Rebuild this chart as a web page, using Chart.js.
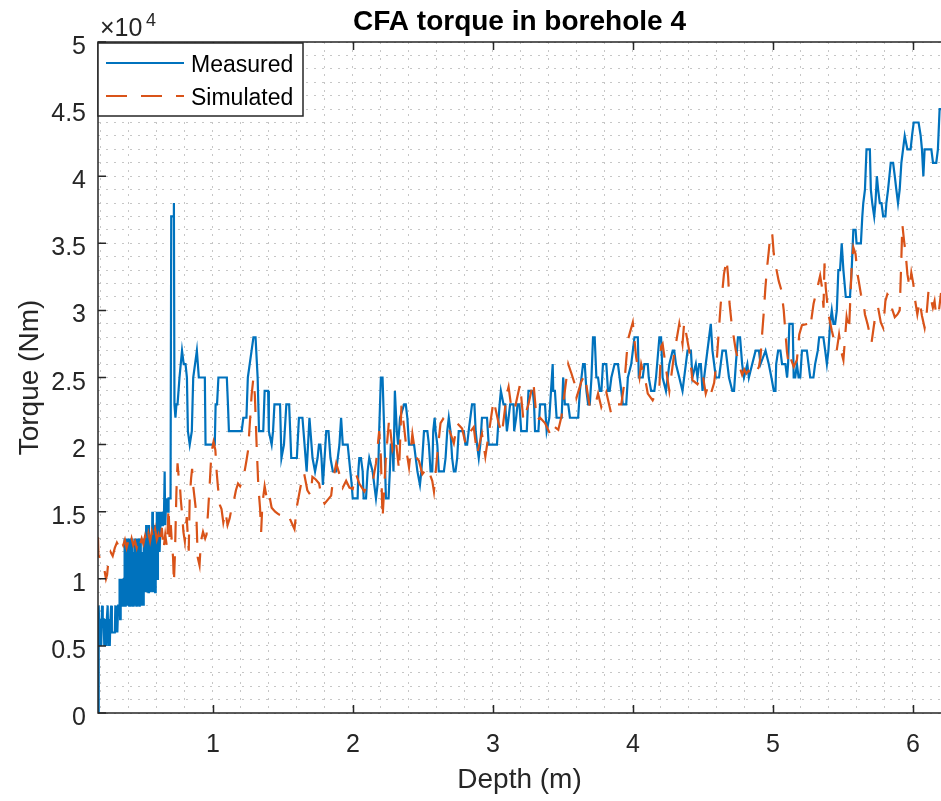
<!DOCTYPE html>
<html>
<head>
<meta charset="utf-8">
<script src="https://cdn.jsdelivr.net/npm/chart.js@4.4.1/dist/chart.umd.min.js"></script>
<style>
  html, body { margin: 0; padding: 0; background: #ffffff; overflow: hidden; }
  #wrap { width: 941px; height: 801px; }
</style>
</head>
<body>
<div id="wrap"><canvas id="torque" width="941" height="801"></canvas></div>
<script>
// Axis ticks and their labels
const xTickValues = [1, 2, 3, 4, 5, 6];
const xTickLabels = ['1', '2', '3', '4', '5', '6'];
const yTickValues = [0, 5000, 10000, 15000, 20000, 25000, 30000, 35000, 40000, 45000, 50000];
const yTickLabels = ['0', '0.5', '1', '1.5', '2', '2.5', '3', '3.5', '4', '4.5', '5'];
const seriesNames = ['Measured', 'Simulated'];

// Measured torque (Nm) against depth (m)
const measuredDepth = [
  0.180,0.183,0.187,0.192,0.197,0.203,0.209,0.214,0.220,0.225,0.231,0.237,0.243,0.249,0.254,0.259,0.264,0.269,0.274,0.279,0.290,0.300,0.304,0.308,0.312,0.318,0.324,0.330,0.334,0.338,0.342,0.346,0.350,0.354,0.358,0.362,0.366,
  0.370,0.373,0.376,0.379,0.382,0.385,0.388,0.391,0.394,0.397,0.400,0.403,0.406,0.409,0.412,0.415,0.418,0.421,0.424,0.427,0.430,0.433,0.436,0.439,0.442,0.445,0.448,0.451,0.454,0.457,0.460,0.463,0.466,0.469,0.472,0.475,0.478,0.481,0.484,0.487,0.490,0.493,0.496,0.499,0.502,0.505,0.508,
  0.512,0.516,0.520,0.524,0.528,0.532,0.536,0.540,0.544,0.548,0.552,0.556,0.560,0.564,0.568,0.572,0.576,0.580,0.584,0.588,0.592,0.596,0.600,0.604,0.608,0.612,
  0.616,0.620,0.626,0.632,0.638,0.644,0.650,0.656,0.660,0.664,0.668,0.672,0.676,0.680,0.684,0.692,
  0.698,0.703,0.716,0.722,0.726,0.733,0.740,0.748,0.762,0.780,0.792,0.805,0.815,0.822,0.835,0.850,0.860,0.886,0.900,0.943,0.948,1.014,1.020,1.030,1.040,1.100,1.108,1.115,1.206,1.218,1.240,1.250,1.290,1.305,1.320,1.330,1.360,1.370,1.395,1.400,1.420,1.430,1.440,1.480,1.490,1.508,1.525,1.545,1.560,1.600,1.615,1.640,1.670,1.690,1.712,1.730,1.748,1.758,1.768,1.776,1.786,1.810,1.826,
  1.840,1.857,1.881,1.892,1.904,1.916,1.928,1.963,1.982,1.992,1.999,2.034,2.039,2.046,2.058,2.070,2.077,2.094,2.105,2.117,2.141,2.153,2.165,2.176,2.181,2.188,2.200,2.212,2.224,2.236,2.255,2.264,2.271,2.283,2.290,2.300,2.314,2.323,2.337,2.366,2.378,2.389,2.401,2.437,2.449,2.461,2.479,2.489,2.496,2.508,2.532,2.543,2.555,2.567,2.574,2.584,2.591,2.603,2.614,2.650,2.662,2.674,2.685,2.697,2.709,2.721,2.733,2.745,2.756,2.792,2.804,2.816,2.827,2.851,2.868,2.877,2.887,2.899,2.910,2.922,2.958,2.970,3.029,3.041,3.048,3.057,3.076,3.088,3.100,3.112,3.123,3.147,3.152,3.166,3.176,3.190,
  3.202,3.242,3.254,3.285,3.294,3.301,3.325,3.337,3.372,3.384,3.403,3.427,3.431,3.443,3.455,3.491,3.502,3.514,3.538,3.550,3.609,3.621,3.644,3.656,3.668,3.680,3.692,3.704,3.715,3.727,3.739,3.751,3.763,3.775,3.786,3.810,3.822,3.834,3.846,3.869,3.893,3.905,3.917,3.928,3.952,3.964,3.988,4.011,4.035,4.042,4.070,4.082,4.106,4.113,4.130,4.153,4.165,4.189,4.201,4.212,4.236,4.248,4.260,4.284,4.295,4.307,4.331,4.354,4.378,4.390,4.414,4.425,4.449,4.461,4.473,4.485,4.497,4.520,4.544,4.556,4.568,4.592,4.615,4.627,4.639,4.663,4.686,4.710,4.722,4.735,4.750,4.765,4.780,4.793,4.817,4.828,4.852,4.876,4.900,4.911,4.947,4.970,
  4.989,5.006,5.018,5.023,5.037,5.053,5.065,5.089,5.101,5.108,5.117,5.141,5.148,5.159,5.171,5.183,5.195,5.207,5.242,5.254,5.266,5.289,5.301,5.320,5.330,5.360,5.373,5.385,5.396,5.408,5.420,5.432,5.444,5.456,5.467,5.479,5.491,5.503,5.520,5.550,5.562,5.574,5.590,5.597,5.628,5.638,5.645,5.657,5.668,5.692,5.699,5.709,5.723,5.732,5.742,5.751,5.763,5.775,5.787,5.803,5.810,5.822,5.841,5.858,5.870,5.881,5.893,5.905,5.917,5.929,5.941,5.960,5.983,5.993,6.005,6.040,6.055,6.064,6.074,6.083,6.131,6.143,6.166,6.178,6.190,6.200
];
const measuredTorque = [
  0,3000,8000,5000,7000,5000,8000,7000,7000,5000,7000,5000,7000,8000,5000,7000,5000,7000,8000,6000,6000,6000,8000,6000,8000,6000,8000,8000,10000,7000,10000,8000,10000,8000,10000,8000,10000,
  13000,8000,10000,8000,13000,9000,10000,8000,12000,9000,13000,8000,10000,8000,13000,9000,10000,8000,13000,10000,8000,12000,9000,10000,8000,13000,9000,10000,8000,13000,10000,8000,10000,9000,13000,8000,10000,9000,13000,8000,10000,8000,12000,9000,10000,8000,13000,
  9000,13000,10000,14000,9000,13000,10000,9000,14000,10000,13000,9000,12000,10000,15000,9000,13000,10000,14000,9000,13000,11000,15000,10000,14000,12000,
  15000,12000,14000,15000,14000,15000,14000,18000,14000,14000,16000,15000,16000,15000,16000,16000,
  16000,37000,37000,38000,23000,22000,23000,23000,25000,27000,26000,26000,25000,21000,20000,21000,25000,27000,25000,25000,20000,20000,23000,23000,25000,25000,23000,21000,21000,22000,22000,25000,28000,28000,25000,21000,21000,24000,24000,21000,20000,21000,23000,23000,19000,20000,23000,23000,19000,19000,22000,22000,18000,22000,19000,18000,19000,20000,20000,19000,17000,21000,21000,
  19000,18000,18000,19000,20000,22000,20000,20000,18000,17000,16000,16000,18000,19000,19000,18000,16000,16000,18000,19000,18000,17000,16000,17000,18000,21000,25000,25000,21000,16000,16000,18000,20000,20000,18000,24000,21000,20000,22000,23000,23000,22000,20000,20000,19000,18000,17000,18000,19000,21000,21000,20000,18000,18000,21000,22000,21000,20000,18000,18000,19000,21000,22000,21000,19000,18000,18000,19000,21000,21000,20000,20000,21000,23000,23000,21000,20000,19000,20000,22000,22000,20000,20000,22000,23000,24000,23000,23000,21000,22000,23000,23000,21000,22000,23000,23000,
  21000,21000,24000,24000,23000,21000,21000,23000,23000,21000,22000,26000,24000,24000,22000,22000,25000,23000,23000,22000,22000,24000,26000,26000,24000,23000,23000,25000,28000,28000,25000,25000,24000,24000,26000,26000,24000,24000,25000,26000,26000,25000,24000,23000,23000,25000,26000,28000,28000,25000,25000,26000,26000,25000,24000,24000,25000,28000,28000,25000,24000,25000,26000,27000,27000,26000,25000,24000,26000,27000,27000,25000,26000,25000,26000,26000,24000,26000,28000,29000,27000,25000,25000,26000,27000,27000,25000,24000,24000,26000,28000,28000,26000,25000,26000,25000,26000,27000,27000,26000,27000,26000,
  25000,24000,24000,26000,27000,27000,26000,26000,25000,26000,29000,29000,25000,25000,26000,25000,25000,27000,27000,26000,25000,25000,26000,27000,28000,28000,27000,26000,27000,29000,30000,29000,29000,30000,33000,33000,35000,33000,31000,31000,33000,36000,36000,35000,35000,37000,38000,39000,42000,42000,39000,38000,37000,38000,40000,39000,38000,38000,37000,37000,38000,39000,41000,41000,40000,39000,38000,39000,41000,42000,43000,42000,42000,43000,44000,44000,43000,42000,40000,42000,42000,41000,41000,42000,45000,45000
];

// Simulated torque (Nm) against depth (m)
const simulatedDepth = [
  0.180,0.183,0.195,0.210,0.225,0.237,0.245,0.255,0.270,0.285,0.300,0.315,0.330,0.345,0.360,0.372,0.384,0.396,0.408,0.420,0.432,0.444,0.456,0.468,0.480,0.492,0.504,0.516,0.528,0.540,0.552,0.564,0.576,0.588,0.600,0.612,0.624,0.636,0.648,0.660,0.672,0.684,0.692,0.700,0.708,0.716,0.722,0.730,
  0.740,0.748,0.756,0.764,0.772,0.780,0.790,0.800,0.806,0.814,0.822,0.828,0.835,0.845,0.852,0.860,0.872,0.882,0.892,0.905,0.915,0.930,0.945,0.955,0.966,0.978,0.990,1.005,1.018,1.028,1.036,1.050,1.062,1.075,1.090,1.105,1.120,1.135,1.150,1.165,1.180,1.195,1.210,1.225,1.240,1.252,1.265,1.277,1.289,1.300,1.313,1.325,1.337,1.345,1.354,1.370,1.385,1.400,1.420,1.445,1.470,1.495,1.520,1.545,1.566,1.583,1.602,1.627,1.651,1.675,1.699,1.711,1.735,1.759,1.774,1.798,
  1.845,1.857,1.881,1.904,1.928,1.952,1.975,1.999,2.023,2.046,2.082,2.105,2.141,2.165,2.188,2.200,2.212,2.236,2.259,2.283,2.307,2.330,2.347,2.366,2.389,2.401,2.425,2.449,2.472,2.496,2.532,2.567,2.579,2.603,2.626,2.650,2.685,2.721,2.745,2.780,2.804,2.827,2.863,2.887,2.922,2.946,2.970,3.005,3.041,3.064,3.100,3.112,3.135,3.159,3.194,3.218,3.254,3.289,3.313,3.337,3.372,
  3.408,3.419,3.443,3.467,3.490,3.514,3.538,3.561,3.585,3.597,3.632,3.656,3.692,3.727,3.751,3.774,3.810,3.845,3.881,3.917,3.940,3.964,3.988,3.999,4.023,4.047,4.059,4.094,4.106,4.141,4.189,4.201,4.212,4.248,4.260,4.295,4.331,4.354,4.366,4.402,4.425,4.461,4.497,4.520,4.540,4.560,4.580,4.600,4.615,4.627,4.639,4.650,4.669,4.680,4.690,4.705,4.720,4.735,4.750,4.765,4.780,4.795,4.810,4.825,4.840,4.855,4.870,4.885,4.900,4.911,4.923,4.934,4.946,4.958,4.970,4.982,4.994,
  5.006,5.022,5.041,5.060,5.077,5.088,5.100,5.112,5.124,5.148,5.171,5.188,5.207,5.249,5.266,5.290,5.313,5.337,5.349,5.361,5.368,5.377,5.396,5.420,5.443,5.455,5.472,5.491,5.503,5.526,5.543,5.562,5.574,5.590,5.604,5.614,5.628,5.645,5.657,5.675,5.692,5.704,5.732,5.751,5.770,5.787,5.803,5.817,5.834,5.851,5.870,5.889,5.905,5.917,5.924,5.936,5.948,5.960,5.976,5.988,6.002,6.016,6.031,6.047,6.064,6.083,6.097,6.111,6.125,6.142,6.154,6.166,6.182,6.200
];
const simulatedTorque = [
  13100,11800,11500,11200,10700,10000,10300,11400,12000,11700,12300,12700,12400,12900,12500,12900,12300,12800,12400,13000,12500,12800,12300,12900,12500,13000,12600,13200,12700,13400,12800,13500,12900,13700,12900,13300,12600,13800,12200,13300,12400,15300,12800,14000,12600,11600,9700,12000,
  16500,18600,17600,17100,15800,14900,13500,12800,13800,14600,13000,12100,16100,17500,18200,16900,15800,14900,11600,11000,12800,13500,13000,13300,15000,17100,19400,20200,19600,17900,16900,15500,15200,14200,15000,14000,14500,15300,15800,16600,17100,16900,17300,17900,18800,19600,21700,23700,24900,23700,19900,16900,15300,13500,15600,16900,16000,16400,15300,15000,14800,14700,14900,14600,14100,13700,15500,16900,17900,16600,16200,17600,17400,17100,16200,15600,
  16200,17300,18600,17800,16800,17300,16800,16700,17800,17100,16500,17000,17200,18600,21000,19100,14500,19100,21900,19600,20300,18100,22900,21300,19100,18300,20800,19100,18800,17800,18300,17300,16500,19300,21600,22000,21200,20100,21600,21200,20100,20800,21300,19300,20800,19100,20800,23300,21600,20800,23800,24300,22500,22800,24500,21800,23000,24700,21800,22000,21600,
  20800,20600,21300,21100,22100,24000,26000,25300,24500,23500,24700,25200,22800,22800,23800,22800,23900,22300,23000,23000,24700,27800,28700,29100,26500,25000,26000,24500,23800,23300,24300,27300,27500,24800,24000,26800,29000,27500,29100,27000,24800,24500,25300,23800,24500,23900,24600,26500,28700,30500,31500,32700,33800,32500,30500,29000,28000,27000,26400,25700,25200,25600,25300,25500,25300,25600,25400,25500,25800,26500,28300,29800,31700,33200,34400,35700,35800,
  34200,33200,32200,31500,30000,28500,26900,26000,26500,25800,26300,28200,28900,29000,28700,30500,31500,32600,31800,30200,33500,31700,29700,28500,27500,27000,28200,26800,26300,29500,28500,33200,34700,34200,32700,32100,31200,30700,29700,29000,28200,27600,29700,30200,29100,28700,30700,31200,31000,30100,29500,29700,30000,33900,36400,35200,34200,32700,31700,32800,32000,30700,29700,30700,29600,28700,29700,31500,31000,30200,30700,29600,29700,31300
];

const measuredPoints = measuredDepth.map((d, i) => ({ x: d, y: measuredTorque[i] }));
const simulatedPoints = simulatedDepth.map((d, i) => ({ x: d, y: simulatedTorque[i] }));

const INK = '#262626';
const FONT = '"Liberation Sans", Arial, Helvetica, sans-serif';
const BLUE = '#0072BD';
const ORANGE = '#D95319';
const DASH = [21, 14];
const LINE_W = 2.2;

// Box, ticks, labels, exponent, title and legend drawn on top of the plot
const axesFrame = {
  id: 'axesFrame',
  afterDraw(chart) {
    const ctx = chart.ctx;
    const a = chart.chartArea;
    const xs = chart.scales.x;
    const ys = chart.scales.y;
    ctx.save();

    // axis box (left, top, bottom)
    ctx.strokeStyle = INK;
    ctx.lineWidth = 1.5;
    ctx.beginPath();
    ctx.moveTo(a.right + 2, a.top); ctx.lineTo(a.left, a.top); ctx.lineTo(a.left, a.bottom); ctx.lineTo(a.right + 2, a.bottom);
    ctx.stroke();

    // inward tick marks
    ctx.beginPath();
    xTickValues.forEach(v => {
      const px = Math.round(xs.getPixelForValue(v)) + 0.5;
      ctx.moveTo(px, a.bottom); ctx.lineTo(px, a.bottom - 8);
      ctx.moveTo(px, a.top); ctx.lineTo(px, a.top + 8);
    });
    yTickValues.forEach(v => {
      const py = ys.getPixelForValue(v);
      ctx.moveTo(a.left, py); ctx.lineTo(a.left + 8, py);
    });
    ctx.stroke();

    // tick labels
    ctx.fillStyle = INK;
    ctx.font = '25px ' + FONT;
    ctx.textBaseline = 'alphabetic';
    ctx.textAlign = 'center';
    xTickValues.forEach((v, i) => ctx.fillText(xTickLabels[i], xs.getPixelForValue(v), 752));
    ctx.textAlign = 'right';
    yTickValues.forEach((v, i) => ctx.fillText(yTickLabels[i], 86, ys.getPixelForValue(v) + 12));

    // exponent of the torque axis
    ctx.textAlign = 'left';
    ctx.font = '25px ' + FONT;
    ctx.fillText('\u00d710', 100, 36);
    ctx.font = '18px ' + FONT;
    ctx.fillText('4', 146, 26);

    // axis titles
    ctx.font = '28px ' + FONT;
    ctx.textAlign = 'center';
    ctx.fillText('Depth (m)', (a.left + 941) / 2, 788);
    ctx.save();
    ctx.translate(38, (a.top + a.bottom) / 2);
    ctx.rotate(-Math.PI / 2);
    ctx.fillText('Torque (Nm)', 0, 0);
    ctx.restore();

    // chart title
    ctx.fillStyle = '#000000';
    ctx.font = 'bold 28px ' + FONT;
    ctx.fillText('CFA torque in borehole 4', (a.left + 941) / 2, 30);

    // legend
    const lx = a.left, ly = a.top + 1, lw = 205, lh = 73;
    ctx.fillStyle = '#ffffff';
    ctx.fillRect(lx, ly, lw, lh);
    ctx.strokeStyle = INK;
    ctx.lineWidth = 1.5;
    ctx.strokeRect(lx, ly, lw, lh);

    ctx.lineWidth = LINE_W;
    ctx.strokeStyle = BLUE;
    ctx.beginPath(); ctx.moveTo(lx + 8, ly + 20); ctx.lineTo(lx + 86, ly + 20); ctx.stroke();
    ctx.strokeStyle = ORANGE;
    ctx.setLineDash(DASH);
    ctx.beginPath(); ctx.moveTo(lx + 8, ly + 53); ctx.lineTo(lx + 86, ly + 53); ctx.stroke();
    ctx.setLineDash([]);

    ctx.fillStyle = '#000000';
    ctx.font = '23px ' + FONT;
    ctx.textAlign = 'left';
    ctx.fillText(seriesNames[0], lx + 93, ly + 29);
    ctx.fillText(seriesNames[1], lx + 93, ly + 62);

    ctx.restore();
  }
};

const gridStyle = { color: '#c6c6c6', lineWidth: 1, drawTicks: false };
const gridBorder = { display: false, dash: [2, 6] };

new Chart(document.getElementById('torque'), {
  type: 'scatter',
  data: {
    datasets: [
      {
        label: seriesNames[0],
        data: measuredPoints,
        showLine: true,
        borderColor: BLUE,
        backgroundColor: BLUE,
        borderWidth: LINE_W,
        pointRadius: 0,
        tension: 0,
        order: 2
      },
      {
        label: seriesNames[1],
        data: simulatedPoints,
        showLine: true,
        borderColor: ORANGE,
        backgroundColor: ORANGE,
        borderWidth: LINE_W,
        borderDash: DASH,
        pointRadius: 0,
        tension: 0,
        order: 1
      }
    ]
  },
  options: {
    responsive: false,
    animation: false,
    devicePixelRatio: 1,
    layout: { padding: { left: 98, right: 0, top: 42, bottom: 88 } },
    plugins: { legend: { display: false }, tooltip: { enabled: false }, title: { display: false } },
    scales: {
      x: {
        type: 'linear',
        min: 0.18,
        max: 6.2,
        afterBuildTicks: s => {
          const t = [];
          for (let k = 1; k <= 31; k++) t.push({ value: +(k * 0.2).toFixed(1) });
          s.ticks = t;
        },
        ticks: { display: false },
        grid: gridStyle,
        border: gridBorder,
        afterFit: s => { s.height = 0; }
      },
      y: {
        type: 'linear',
        min: 0,
        max: 50000,
        afterBuildTicks: s => {
          const t = [];
          for (let k = 0; k <= 50; k++) t.push({ value: k * 1000 });
          s.ticks = t;
        },
        ticks: { display: false },
        grid: gridStyle,
        border: gridBorder,
        afterFit: s => { s.width = 0; }
      }
    }
  },
  plugins: [axesFrame]
});
</script>
</body>
</html>
